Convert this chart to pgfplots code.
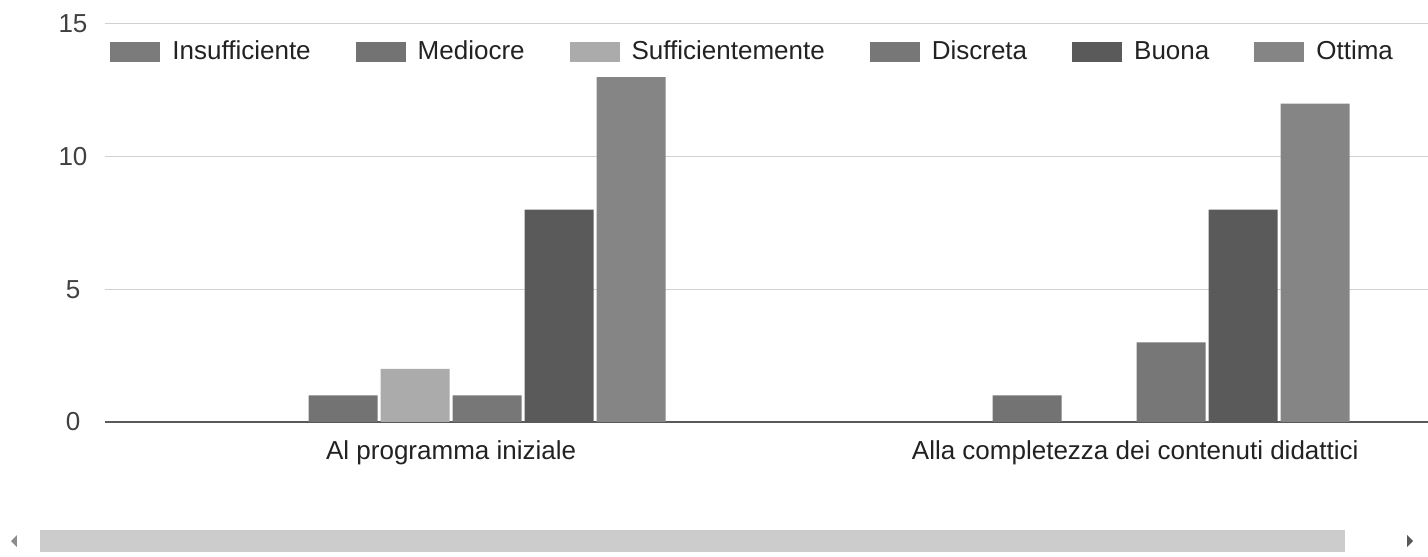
\documentclass[border=0pt]{standalone}
\usepackage{fontspec}
\setmainfont{Liberation Sans}
\usepackage{pgfplots}
\pgfplotsset{compat=1.18}
\definecolor{c1}{HTML}{7B7B7B}
\definecolor{c2}{HTML}{737373}
\definecolor{c3}{HTML}{ABABAB}
\definecolor{c4}{HTML}{777777}
\definecolor{c5}{HTML}{5A5A5A}
\definecolor{c6}{HTML}{858585}
\definecolor{txt}{HTML}{222222}
\begin{document}
\begin{tikzpicture}
\useasboundingbox (-52.5bp,-67.5bp) rectangle (661.5bp,211bp);
\begin{axis}[
  at={(0,0)}, anchor=south west,
  scale only axis, width=661.5bp, height=199bp,
  font=\fontsize{13bp}{15bp}\selectfont,
  ybar=1.5bp, bar width=34.5bp,
  xmin=-0.506, xmax=1.428, ymin=0, ymax=15,
  xtick={0,1}, xticklabels={Al programma iniziale, Alla completezza dei contenuti didattici},
  ytick={0,5,10,15},
  /pgf/number format/assume math mode=true,
  major tick length=0pt,
  axis x line*=bottom, axis y line*=left,
  x axis line style={draw=black!65, line width=0.8bp, -},
  y axis line style={draw=none},
  ymajorgrids, grid style={draw=black!18, line width=0.5bp},
  yticklabel style={anchor=center, xshift=-16bp, text=black!75},
  xticklabel style={yshift=-6bp, text=txt},
  legend columns=6,
  legend style={at={(rel axis cs:0.0038,0.9296)}, anchor=west, draw=none, fill=none, inner sep=0pt,
    nodes={inner sep=0pt, text=txt},
    /tikz/every odd column/.append style={column sep=6bp},
    /tikz/every even column/.append style={column sep=22.5bp}},
]
\addplot[fill=c1, draw=none, legend image code/.code={\fill[c1] (0bp,-5bp) rectangle (25bp,5bp);}] coordinates {(0,0) (1,0)};
\addplot[fill=c2, draw=none, legend image code/.code={\fill[c2] (0bp,-5bp) rectangle (25bp,5bp);}] coordinates {(0,1) (1,1)};
\addplot[fill=c3, draw=none, legend image code/.code={\fill[c3] (0bp,-5bp) rectangle (25bp,5bp);}] coordinates {(0,2) (1,0)};
\addplot[fill=c4, draw=none, legend image code/.code={\fill[c4] (0bp,-5bp) rectangle (25bp,5bp);}] coordinates {(0,1) (1,3)};
\addplot[fill=c5, draw=none, legend image code/.code={\fill[c5] (0bp,-5bp) rectangle (25bp,5bp);}] coordinates {(0,8) (1,8)};
\addplot[fill=c6, draw=none, legend image code/.code={\fill[c6] (0bp,-5bp) rectangle (25bp,5bp);}] coordinates {(0,13) (1,12)};
\legend{Insufficiente, Mediocre, Sufficientemente, Discreta, Buona, Ottima}
\end{axis}
% scrollbar decoration
\fill[black!20] (-32.5bp,-54bp) rectangle (620bp,-65bp);
\fill[black!45] (-44bp,-56.5bp) -- (-47bp,-59.5bp) -- (-44bp,-62.5bp) -- cycle;
\fill[black!65] (651bp,-56.5bp) -- (654bp,-59.5bp) -- (651bp,-62.5bp) -- cycle;
\end{tikzpicture}
\end{document}
